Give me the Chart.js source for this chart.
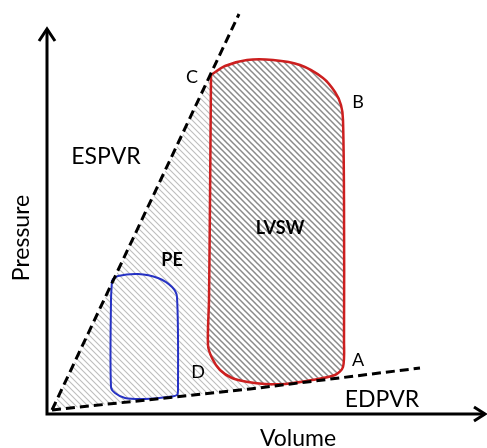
<!DOCTYPE html>
<html>
<head>
<meta charset="utf-8">
<script src="https://cdn.jsdelivr.net/npm/chart.js@4.4.0/dist/chart.umd.min.js"></script>
<style>
  html, body { margin: 0; padding: 0; background: #ffffff; }
  #wrap { width: 487px; height: 448px; }
</style>
</head>
<body>
<div id="wrap"><canvas id="c" width="487" height="448"></canvas></div>
<script>
// ---- Data (Volume, Pressure in arbitrary units) ----
const espvrVolume   = [1.25, 48.0];
const espvrPressure = [1.0, 100.0];

const edpvrVolume   = [1.25, 50.75, 93.25];
const edpvrPressure = [1.0, 6.25, 11.5];

// LVSW loop (starts at C, goes down to D, along the bottom to A, up to B, back to C)
const redVolume   = [41.0, 40.75, 40.5, 40.25, 41.25, 43.25, 46.25, 50.25, 54.5, 59.5, 66.25, 72.0, 74.0, 74.25, 74.25, 74.0, 73.5, 72.0, 69.0, 63.25, 56.5, 50.0, 44.5, 41.0];
const redPressure = [84.75, 53.5, 28.5, 17.25, 14.0, 11.0, 9.0, 8.0, 7.5, 7.5, 8.5, 9.75, 11.75, 18.5, 53.5, 73.5, 77.25, 80.5, 84.0, 87.25, 88.5, 88.5, 87.0, 84.75];

// PE loop (small blue loop)
const blueVolume   = [16.25, 17.75, 22.75, 27.75, 31.25, 32.5, 32.75, 32.5, 30.25, 24.5, 19.5, 17.0, 16.0, 16.0, 16.25];
const bluePressure = [33.5, 34.5, 35.0, 34.0, 31.75, 29.25, 6.0, 4.75, 4.25, 3.75, 4.0, 5.25, 6.75, 28.5, 33.5];

// Point / region labels
const labelTexts    = ['C', 'B', 'A', 'D', 'PE', 'LVSW', 'ESPVR', 'EDPVR'];
const labelVolume   = [36.25, 77.75, 77.75, 37.75, 31.25, 58.25, 14.75, 83.75];
const labelPressure = [84.25, 78.0, 13.5, 10.5, 38.5, 46.5, 64.25, 3.5];

const xTitle = 'Volume';
const yTitle = 'Pressure';

// ---- Helpers ----
const zip = (xs, ys) => xs.map((x, i) => ({ x: x, y: ys[i] }));

// PE (potential energy) region: origin -> C along ESPVR, down LVSW left side, back along EDPVR
const peVolume = [espvrVolume[0], ...redVolume.slice(0, 10), edpvrVolume[1], edpvrVolume[0]];
const pePressure = [espvrPressure[0], ...redPressure.slice(0, 10), edpvrPressure[1], edpvrPressure[0]];

function hatch(color, width, s) {
  const cv = document.createElement('canvas');
  cv.width = s; cv.height = s;
  const g = cv.getContext('2d');
  g.strokeStyle = color;
  g.lineWidth = width;
  g.beginPath();
  for (const k of [-s, 0, s]) {
    g.moveTo(k - 1, -1);
    g.lineTo(k + s + 1, s + 1);
  }
  g.stroke();
  return g.createPattern(cv, 'repeat');
}

const lightHatch = hatch('#bdbdbd', 1.1, 6);
const darkHatch = hatch('#8a8a8a', 1.5, 6);

const FONT = 'Lato, "Open Sans", sans-serif';

const decorations = {
  id: 'decorations',
  afterDraw(chart) {
    const ctx = chart.ctx;
    const xs = chart.scales.x, ys = chart.scales.y;
    const ox = xs.getPixelForValue(0), oy = ys.getPixelForValue(0);
    ctx.save();
    // axes with arrows
    ctx.strokeStyle = '#000';
    ctx.lineWidth = 3;
    ctx.lineCap = 'butt';
    ctx.beginPath();
    ctx.moveTo(ox, oy + 1.5);
    ctx.lineTo(ox, 29);
    ctx.moveTo(ox - 1.5, oy);
    ctx.lineTo(485, oy);
    ctx.stroke();
    ctx.lineJoin = 'miter';
    ctx.beginPath();
    ctx.moveTo(ox - 8, 41);
    ctx.lineTo(ox, 29);
    ctx.lineTo(ox + 8, 41);
    ctx.moveTo(474, oy - 7);
    ctx.lineTo(485, oy);
    ctx.lineTo(474, oy + 7);
    ctx.stroke();

    // labels
    ctx.fillStyle = '#000';
    ctx.textAlign = 'center';
    ctx.textBaseline = 'middle';
    labelTexts.forEach((t, i) => {
      const bold = (t === 'PE' || t === 'LVSW');
      const big = (t === 'ESPVR' || t === 'EDPVR');
      const size = big ? 23 : (bold ? 18 : 18);
      ctx.font = (bold ? 'bold ' : '') + size + 'px ' + FONT;
      ctx.fillText(t, xs.getPixelForValue(labelVolume[i]), ys.getPixelForValue(labelPressure[i]));
    });
    // axis titles
    ctx.font = '23px ' + FONT;
    ctx.fillText(xTitle, 298, 439);
    ctx.translate(22, 238);
    ctx.rotate(-Math.PI / 2);
    ctx.fillText(yTitle, 0, 0);
    ctx.restore();
  }
};

new Chart(document.getElementById('c'), {
  type: 'scatter',
  data: {
    datasets: [
      {
        label: 'PE region',
        data: zip(peVolume, pePressure),
        showLine: true,
        borderWidth: 0,
        borderColor: 'rgba(0,0,0,0)',
        backgroundColor: lightHatch,
        fill: 'shape',
        pointRadius: 0,
        tension: 0,
        order: 10
      },
      {
        label: 'LVSW',
        data: zip(redVolume, redPressure),
        showLine: true,
        borderColor: '#cc1f1f',
        borderWidth: 2.5,
        backgroundColor: darkHatch,
        fill: 'shape',
        pointRadius: 0,
        tension: 0.3,
        order: 5
      },
      {
        label: 'PE loop',
        data: zip(blueVolume, bluePressure),
        showLine: true,
        borderColor: '#2632c4',
        borderWidth: 2,
        fill: false,
        pointRadius: 0,
        tension: 0.3,
        order: 4
      },
      {
        label: 'ESPVR',
        data: zip(espvrVolume, espvrPressure),
        showLine: true,
        borderColor: '#000',
        borderWidth: 3,
        borderDash: [9, 5],
        pointRadius: 0,
        fill: false,
        order: 1
      },
      {
        label: 'EDPVR',
        data: zip(edpvrVolume, edpvrPressure),
        showLine: true,
        borderColor: '#000',
        borderWidth: 3,
        borderDash: [9, 5],
        pointRadius: 0,
        fill: false,
        tension: 0,
        order: 1
      }
    ]
  },
  options: {
    responsive: false,
    animation: false,
    layout: { padding: { left: 47, right: 0, top: 10, bottom: 34 } },
    plugins: { legend: { display: false }, tooltip: { enabled: false } },
    scales: {
      x: { type: 'linear', min: 0, max: 110, display: false },
      y: { type: 'linear', min: 0, max: 101, display: false }
    }
  },
  plugins: [decorations]
});
</script>
</body>
</html>
